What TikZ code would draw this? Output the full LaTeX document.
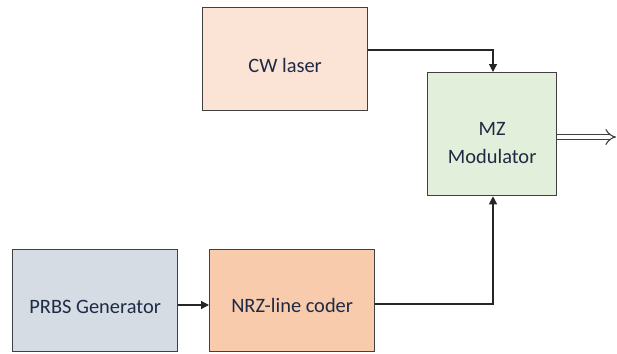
\documentclass[tikz,border=0pt]{standalone}
\usepackage{fontspec}
\setmainfont{Carlito}
\usetikzlibrary{arrows.meta}
\definecolor{edge}{HTML}{404040}
\definecolor{cwfill}{HTML}{FBE3D6}
\definecolor{mzfill}{HTML}{E2EFDA}
\definecolor{prbsfill}{HTML}{D6DCE4}
\definecolor{nrzfill}{HTML}{F8CBAD}
\definecolor{txt}{HTML}{1F2A44}
\tikzset{
  blk/.style={draw=edge, line width=1.3bp, anchor=north west, inner sep=0pt},
  lbl/.style={font=\fontsize{20.5}{28}\selectfont, text=txt, align=center, inner sep=0pt},
  conn/.style={draw=black!85, line width=1.2bp, -{Triangle[length=8bp,width=8bp]}},
}
\begin{document}
\begin{tikzpicture}[x=1bp,y=-1bp]
\useasboundingbox (0,0) rectangle (617,353);
\node[blk, fill=cwfill, minimum width=165bp, minimum height=103bp] (cw) at (202,7) {};
\node[blk, fill=mzfill, minimum width=129bp, minimum height=123bp] (mz) at (427,72) {};
\node[blk, fill=prbsfill, minimum width=165bp, minimum height=102bp] (prbs) at (12,249) {};
\node[blk, fill=nrzfill, minimum width=165bp, minimum height=102bp] (nrz) at (209,249) {};
\node[lbl] (cwt) at ([yshift=-6bp]cw.center) {CW laser};
\node[lbl] (mzt) at ([yshift=-9bp]mz.center) {MZ\\Modulator};
\node[lbl] (prbst) at ([yshift=-6bp]prbs.center) {PRBS Generator};
\node[lbl] (nrzt) at ([yshift=-5bp]nrz.center) {NRZ-line coder};
\coordinate (top) at (493,50);
\coordinate (bot) at (493,304);
\coordinate (out) at (616,137);
\draw[conn] (cw.east |- top) -- (top) -- (mz.north -| top);
\draw[conn] (nrz.east |- bot) -- (bot) -- (mz.south -| bot);
\draw[conn] (prbs.east |- 0,305) -- (nrz.west |- 0,305);
\draw[draw=edge, line width=1.1bp, double=white, double distance=4.5bp, -{Implies[length=8bp]}] (mz.east |- out) -- (out);
\end{tikzpicture}
\end{document}
